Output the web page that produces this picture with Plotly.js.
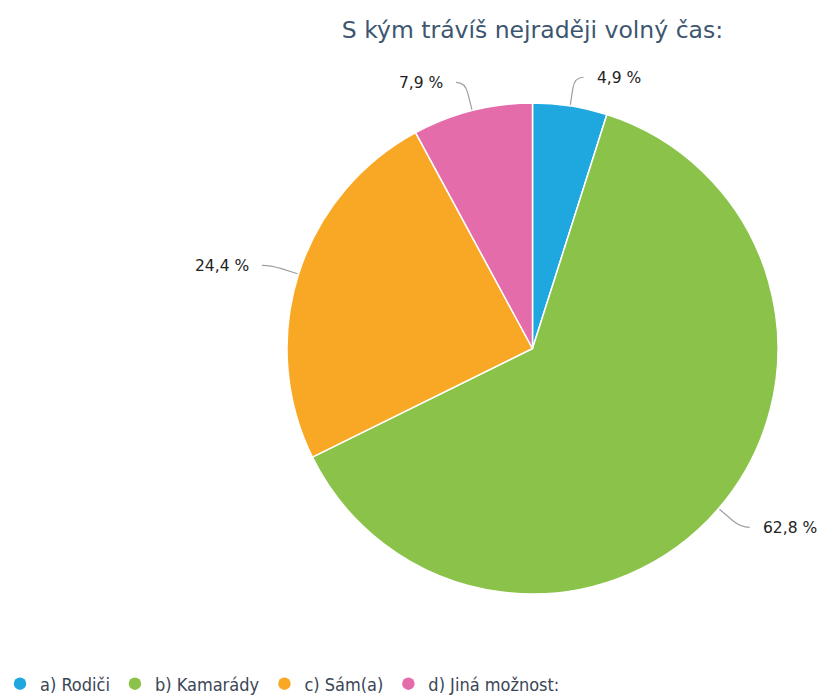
<!DOCTYPE html>
<html>
<head>
<meta charset="utf-8">
<script src="https://cdn.plot.ly/plotly-3.0.1.min.js"></script>
<style>html,body{margin:0;padding:0;background:#fff;}#chart{width:821px;height:696px;}</style>
</head>
<body>
<div id="chart"></div>
<script>
const categories = ['a) Rodiči', 'b) Kamarády', 'c) Sám(a)', 'd) Jiná možnost:'];
const values = [4.9, 62.8, 24.4, 7.9];
const colors = ['#1fa8e0', '#8bc34a', '#f9a825', '#e56caa'];
const chartTitle = 'S kým trávíš nejraději volný čas:';

const W = 821, H = 696;
const cx = 532.5, cy = 348.5, R = 245.5;   // pie geometry in pixels
const px = x => x / W, py = y => 1 - y / H;

function fmt(v) { return v.toFixed(1).replace('.', ',') + ' %'; }

const pie = {
  type: 'pie',
  labels: categories,
  values: values,
  sort: false,
  direction: 'clockwise',
  rotation: 0,
  marker: { colors: colors, line: { color: '#ffffff', width: 1.5 } },
  textinfo: 'none',
  hoverinfo: 'label+percent',
  showlegend: false,
  domain: { x: [px(cx - R), px(cx + R)], y: [py(cy + R), py(cy - R)] }
};

// legend-only dummy traces (circle symbols)
const legendTraces = categories.map((c, i) => ({
  type: 'scatter', mode: 'markers', x: [null], y: [null], name: c,
  marker: { color: colors[i], size: 12.5, symbol: 'circle' },
  hoverinfo: 'skip', showlegend: true
}));

// outside labels with curved connectors, computed from values
const total = values.reduce((a, b) => a + b, 0);
const shapes = [], annotations = [];
let cum = 0;
values.forEach((v, i) => {
  const mid = (cum + v / 2) / total * 2 * Math.PI;
  cum += v;
  const s = Math.sin(mid), c = Math.cos(mid);
  const dir = s >= 0 ? 1 : -1;
  const p0 = [cx + (R + 1) * s, cy - (R + 1) * c];
  const pa = [cx + (R + 18) * s, cy - (R + 18) * c];
  const p1 = [cx + (R + 29) * s, cy - (R + 29) * c];
  const p2 = [p1[0] + dir * 9, p1[1]];
  shapes.push({
    type: 'path', xref: 'paper', yref: 'paper',
    path: `M ${px(p0[0])},${py(p0[1])} L ${px(pa[0])},${py(pa[1])} Q ${px(p1[0])},${py(p1[1])} ${px(p2[0])},${py(p2[1])}`,
    line: { color: '#a0a0a0', width: 1.2 }
  });
  annotations.push({
    xref: 'paper', yref: 'paper', x: px(p2[0] + dir * 11), y: py(p2[1] + 1),
    xanchor: dir > 0 ? 'left' : 'right', yanchor: 'middle',
    text: fmt(v), showarrow: false,
    font: { family: 'DejaVu Sans, sans-serif', size: 15.5, color: '#222222' }
  });
});

const layout = {
  width: W, height: H,
  margin: { l: 0, r: 0, t: 0, b: 0, autoexpand: false },
  paper_bgcolor: '#ffffff', plot_bgcolor: '#ffffff',
  title: {
    text: chartTitle,
    font: { family: 'DejaVu Sans, sans-serif', size: 23.5, color: '#3d5670' },
    x: px(cx), xanchor: 'center', y: 1 - 30 / H, yanchor: 'middle'
  },
  xaxis: { visible: false }, yaxis: { visible: false },
  showlegend: true,
  legend: {
    orientation: 'h', x: 0, xanchor: 'left', y: 1 - 684 / H, yanchor: 'middle',
    font: { family: 'DejaVu Sans Condensed, Open Sans, sans-serif', size: 18, color: '#3a4656' },
    itemwidth: 30, traceorder: 'normal', bgcolor: 'rgba(0,0,0,0)'
  },
  shapes: shapes,
  annotations: annotations
};

Plotly.newPlot('chart', [pie].concat(legendTraces), layout, { displayModeBar: false, staticPlot: true });
</script>
</body>
</html>
